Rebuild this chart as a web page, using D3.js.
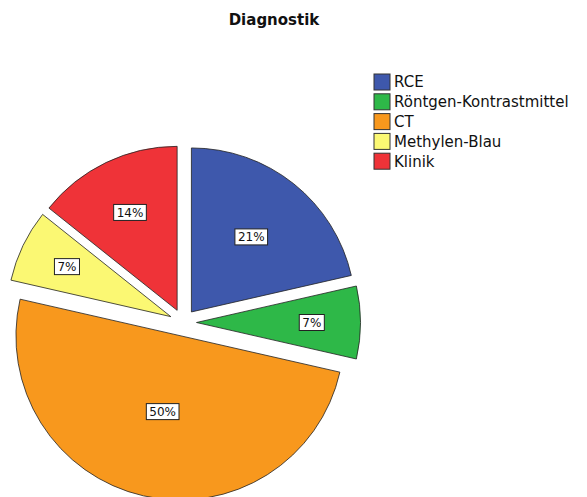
<!DOCTYPE html>
<html>
<head>
<meta charset="utf-8">
<script src="https://cdn.jsdelivr.net/npm/d3@7"></script>
<style>
  body { margin: 0; background: #fff; }
  svg { display: block; }
</style>
</head>
<body>
<div id="chart"></div>
<script>
var categories = ["RCE", "Röntgen-Kontrastmittel", "CT", "Methylen-Blau", "Klinik"];
var counts = [3, 1, 7, 1, 2];
var colors = ["#3E58AC", "#2EB848", "#F8981D", "#FBF873", "#EF3338"];
var title = "Diagnostik";

var width = 587, height = 497;
var cx = 183, cy = 322.5, radius = 164, explode = 13.5;

var svg = d3.select("#chart").append("svg")
  .attr("width", width)
  .attr("height", height);

svg.append("text")
  .attr("x", 274)
  .attr("y", 25)
  .attr("text-anchor", "middle")
  .style("font-family", "DejaVu Sans, sans-serif")
  .style("font-weight", "bold")
  .style("font-size", "15px")
  .attr("fill", "#111")
  .text(title);

var data = categories.map(function(c, i) { return { name: c, value: counts[i], color: colors[i] }; });
var total = d3.sum(counts);

var pie = d3.pie().sort(null).value(function(d) { return d.value; });
var arc = d3.arc().innerRadius(0).outerRadius(radius);
var arcs = pie(data);

var g = svg.append("g").attr("transform", "translate(" + cx + "," + cy + ")");

var slices = g.selectAll(".slice")
  .data(arcs)
  .enter().append("g")
  .attr("class", "slice")
  .attr("transform", function(d) {
    var mid = (d.startAngle + d.endAngle) / 2;
    return "translate(" + (explode * Math.sin(mid)) + "," + (-explode * Math.cos(mid)) + ")";
  });

slices.append("path")
  .attr("d", arc)
  .attr("fill", function(d) { return d.data.color; })
  .attr("stroke", "#222")
  .attr("stroke-width", 0.8);

// label sits roughly at the centre of the largest circle inside the slice
slices.each(function(d) {
  var mid = (d.startAngle + d.endAngle) / 2;
  var half = (d.endAngle - d.startAngle) / 2;
  var f = Math.min(0.74, 1 / (1 + Math.sin(Math.min(half, Math.PI / 2)))) * 0.95;
  var lx = radius * f * Math.sin(mid);
  var ly = -radius * f * Math.cos(mid);
  var grp = d3.select(this).append("g").attr("transform", "translate(" + lx + "," + ly + ")");
  var t = grp.append("text")
    .attr("text-anchor", "middle")
    .attr("dy", "0.36em")
    .style("font-family", "DejaVu Sans, sans-serif")
    .style("font-size", "12px")
    .attr("fill", "#111")
    .text(Math.round(d.data.value / total * 100) + "%");
  var w = t.node().getComputedTextLength() + 6;
  grp.insert("rect", "text")
    .attr("x", -w / 2)
    .attr("y", -8)
    .attr("width", w)
    .attr("height", 16)
    .attr("fill", "#fff")
    .attr("stroke", "#222")
    .attr("stroke-width", 1);
});

// legend
var legend = svg.append("g").attr("transform", "translate(374,74)");
var rows = legend.selectAll(".row")
  .data(data)
  .enter().append("g")
  .attr("class", "row")
  .attr("transform", function(d, i) { return "translate(0," + (i * 19.8) + ")"; });

rows.append("rect")
  .attr("width", 16)
  .attr("height", 16)
  .attr("fill", function(d) { return d.color; })
  .attr("stroke", "#333")
  .attr("stroke-width", 1);

rows.append("text")
  .attr("x", 20)
  .attr("y", 8)
  .attr("dy", "0.36em")
  .style("font-family", "DejaVu Sans, sans-serif")
  .style("font-size", "15px")
  .attr("fill", "#111")
  .text(function(d) { return d.name; });
</script>
</body>
</html>
